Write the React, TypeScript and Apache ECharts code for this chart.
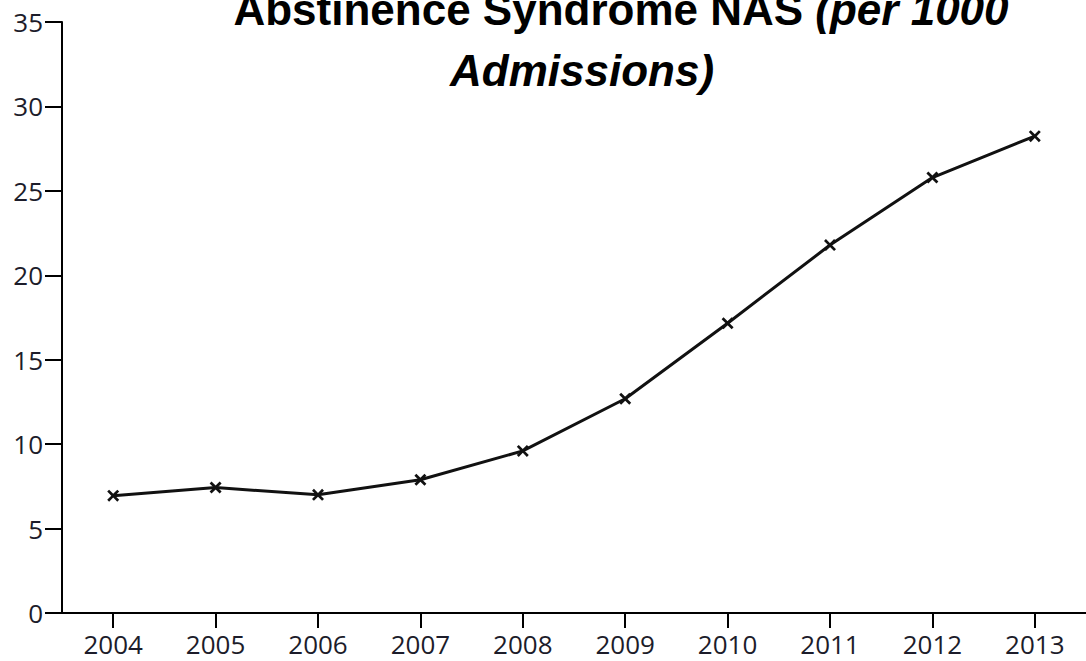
import React, { useEffect, useRef } from 'react';
import * as echarts from 'echarts';

const years = ['2004', '2005', '2006', '2007', '2008', '2009', '2010', '2011', '2012', '2013'];
const nasRate = [6.95, 7.43, 7.0, 7.89, 9.6, 12.69, 17.16, 21.79, 25.79, 28.24];
const yMin = 0;
const yMax = 35;
const yStep = 5;
const titleLine1Plain = 'Abstinence Syndrome NAS ';
const titleLine1Italic = '(per 1000';
const titleLine2 = 'Admissions)';

const crossSymbol =
  'path://M0,1.6L1.6,0L5,3.4L8.4,0L10,1.6L6.6,5L10,8.4L8.4,10L5,6.6L1.6,10L0,8.4L3.4,5Z';

export default function App() {
  const ref = useRef<HTMLDivElement>(null);
  useEffect(() => {
    document.body.style.margin = '0';
    const chart = echarts.init(ref.current!, null, { renderer: 'svg' });
    const tickFont = {
      fontFamily: '"Open Sans", "Noto Sans", sans-serif',
      fontSize: 26,
      color: '#1c1c2a',
    };
    chart.setOption({
      animation: false,
      backgroundColor: '#ffffff',
      grid: { left: 62, top: 22, width: 1034, height: 591 },
      graphic: [
        {
          type: 'text',
          x: 621,
          y: 9,
          style: {
            text: '{b|' + titleLine1Plain + '}{i|' + titleLine1Italic + '}',
            align: 'center',
            verticalAlign: 'middle',
            rich: {
              b: { fontFamily: '"Liberation Sans", Arial, sans-serif', fontWeight: 'bold', fontSize: 44, fill: '#000', lineHeight: 44 },
              i: { fontFamily: '"Liberation Sans", Arial, sans-serif', fontWeight: 'bold', fontStyle: 'italic', fontSize: 44, fill: '#000', lineHeight: 44 },
            },
          },
        },
        {
          type: 'text',
          x: 582,
          y: 70,
          style: {
            text: titleLine2,
            align: 'center',
            verticalAlign: 'middle',
            fontFamily: '"Liberation Sans", Arial, sans-serif',
            fontWeight: 'bold',
            fontStyle: 'italic',
            fontSize: 44,
            fill: '#000',
          },
        },
      ],
      xAxis: {
        type: 'category',
        data: years,
        boundaryGap: true,
        axisLine: { show: true, lineStyle: { color: '#000', width: 2 } },
        axisTick: { show: true, alignWithLabel: true, length: 15, lineStyle: { color: '#000', width: 2 } },
        axisLabel: { ...tickFont, margin: 18 },
        splitLine: { show: false },
      },
      yAxis: {
        type: 'value',
        min: yMin,
        max: yMax,
        interval: yStep,
        axisLine: { show: true, lineStyle: { color: '#000', width: 2 } },
        axisTick: { show: true, length: 17, lineStyle: { color: '#000', width: 2 } },
        axisLabel: { ...tickFont, margin: 19 },
        splitLine: { show: false },
      },
      series: [
        {
          type: 'line',
          data: nasRate,
          symbol: crossSymbol,
          symbolSize: 12,
          showSymbol: true,
          lineStyle: { color: '#111', width: 3 },
          itemStyle: { color: '#111' },
        },
      ],
    });
    return () => chart.dispose();
  }, []);
  return <div ref={ref} style={{ width: 1086, height: 661 }} />;
}
